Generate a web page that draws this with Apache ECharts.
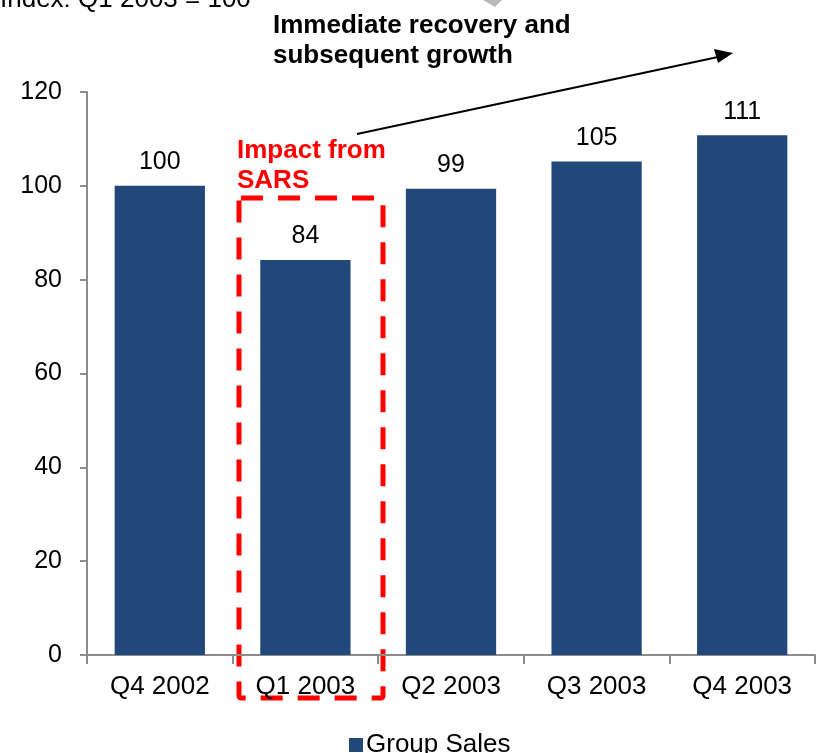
<!DOCTYPE html>
<html><head><meta charset="utf-8">
<script src="https://cdn.jsdelivr.net/npm/echarts@6/dist/echarts.min.js"></script>
<style>html,body{margin:0;padding:0;background:#fff}#c{width:822px;height:753px}</style>
</head><body><div id="c"></div>
<script>
const categories = ['Q4 2002', 'Q1 2003', 'Q2 2003', 'Q3 2003', 'Q4 2003'];
const groupSales = [100, 84.2, 99.4, 105.2, 110.8];
const yTicks = [0, 20, 40, 60, 80, 100, 120];

const FONT = '"Liberation Sans", Arial, sans-serif';
const chart = echarts.init(document.getElementById('c'), null, {renderer: 'canvas'});
chart.setOption({
  animation: false,
  textStyle: {fontFamily: FONT},
  grid: {left: 87, right: 7, top: 92, bottom: 98, containLabel: false},
  legend: {
    data: ['Group Sales'], left: 344, top: 727, icon: 'rect', itemWidth: 14, itemHeight: 14, itemGap: 4,
    textStyle: {fontFamily: FONT, fontSize: 26, color: '#000', padding: [0,0,0,-2]}
  },
  xAxis: {
    type: 'category', data: categories,
    axisLine: {lineStyle: {color: '#8c8c8c', width: 2}},
    axisTick: {show: true, length: 9, lineStyle: {color: '#8c8c8c', width: 2}},
    axisLabel: {fontFamily: FONT, fontSize: 26, color: '#000', margin: 19}
  },
  yAxis: {
    type: 'value', min: yTicks[0], max: yTicks[yTicks.length-1], interval: 20,
    splitLine: {show: false},
    axisLine: {show: true, lineStyle: {color: '#8c8c8c', width: 2}},
    axisTick: {show: true, length: 7, lineStyle: {color: '#8c8c8c', width: 2}},
    axisLabel: {fontFamily: FONT, fontSize: 25, color: '#000', margin: 25}
  },
  series: [{
    name: 'Group Sales', type: 'bar', data: groupSales, barCategoryGap: '38%',
    itemStyle: {color: '#22487a'},
    label: {show: true, position: 'top', distance: 11, fontFamily: FONT, fontSize: 25, color: '#000',
      formatter: p => Math.round(p.value)}
  }],
  graphic: [
    {type: 'text', left: 0, top: -13, style: {text: 'Index: Q1 2003 = 100', font: '26px ' + FONT, fill: '#000'}},
    {type: 'polygon', shape: {points: [[483,0],[502,0],[495,7]]}, style: {fill: '#b8b8b8'}},
    {type: 'text', left: 273, top: 11, style: {text: 'Immediate recovery and\nsubsequent growth', font: 'bold 26px ' + FONT, fill: '#000', lineHeight: 30}},
    {type: 'line', shape: {x1: 357, y1: 134, x2: 718, y2: 57}, style: {stroke: '#000', lineWidth: 2}},
    {type: 'polygon', shape: {points: [[733,53],[714,49],[718,63]]}, style: {fill: '#000'}},
    {type: 'text', left: 237, top: 136, style: {text: 'Impact from\nSARS', font: 'bold 26px ' + FONT, fill: '#ff0000', lineHeight: 30}},
    {type: 'rect', shape: {x: 239, y: 198, width: 144, height: 500, r: 2}, style: {fill: 'none', stroke: '#ff0000', lineWidth: 5, lineDash: [22, 15]}}
  ]
});
</script></body></html>
